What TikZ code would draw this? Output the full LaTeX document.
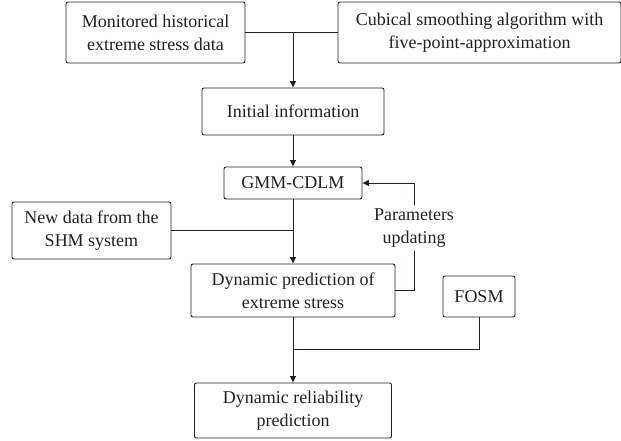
\documentclass[tikz,border=0pt]{standalone}
\usepackage{fontspec}
\setmainfont{Liberation Serif}
\usetikzlibrary{arrows.meta}
\definecolor{ink}{HTML}{231F20}
\tikzset{
    box/.style={draw=ink, text=ink, rounded corners=2pt, align=center, inner sep=0pt, line width=0.9pt,
        font=\fontsize{18}{23}\selectfont},
    arr/.style={-{Triangle[length=6.5pt,width=6pt]}},
    wire/.style={draw=ink, line width=0.9pt}
}
\begin{document}
\begin{tikzpicture}[x=1pt,y=-1pt]
            \useasboundingbox (0,0) rectangle (621,441);
            \node[box, minimum width=179pt, minimum height=61pt] (mon) at (155.5,32.5) {Monitored historical\\extreme stress data};
            \node[box, minimum width=283pt, minimum height=61pt] (cub) at (479.5,32.5) {Cubical smoothing algorithm with\\five-point-approximation};
            \node[box, minimum width=182pt, minimum height=47pt] (init) at (293,111.5) {Initial information};
            \node[box, minimum width=138pt, minimum height=32pt] (gmm) at (293,183) {GMM-CDLM};
            \node[box, minimum width=159pt, minimum height=57pt] (new) at (91.5,230.5) {New data from the\\SHM system};
            \node[box, minimum width=204pt, minimum height=53pt] (dyn) at (293,290.5) {Dynamic prediction of\\extreme stress};
            \node[box, minimum width=72pt, minimum height=41pt] (fosm) at (479,296.5) {FOSM};
            \node[box, minimum width=197pt, minimum height=55pt] (rel) at (293,410.5) {Dynamic reliability\\prediction};
            \node[box, draw=none, inner sep=3pt] (upd) at (414,228) {Parameters\\updating};
            \coordinate (jn) at (293,349);
            % connectors
            \draw[wire] (mon.east) -- (cub.west);
            \draw[wire, arr] (init.north |- mon.east) -- (init.north);
            \draw[wire, arr] (init) -- (gmm);
            \draw[wire, arr] (gmm) -- (dyn);
            \draw[wire] (new.east) -- (new.east -| dyn.north);
            \draw[wire] (dyn.east) -| (upd.south);
            \draw[wire, arr] (upd.north) |- (gmm.east);
            \draw[wire] (fosm.south) |- (jn);
            \draw[wire, arr] (dyn.south) -- (rel.north);
        \end{tikzpicture}
\end{document}
